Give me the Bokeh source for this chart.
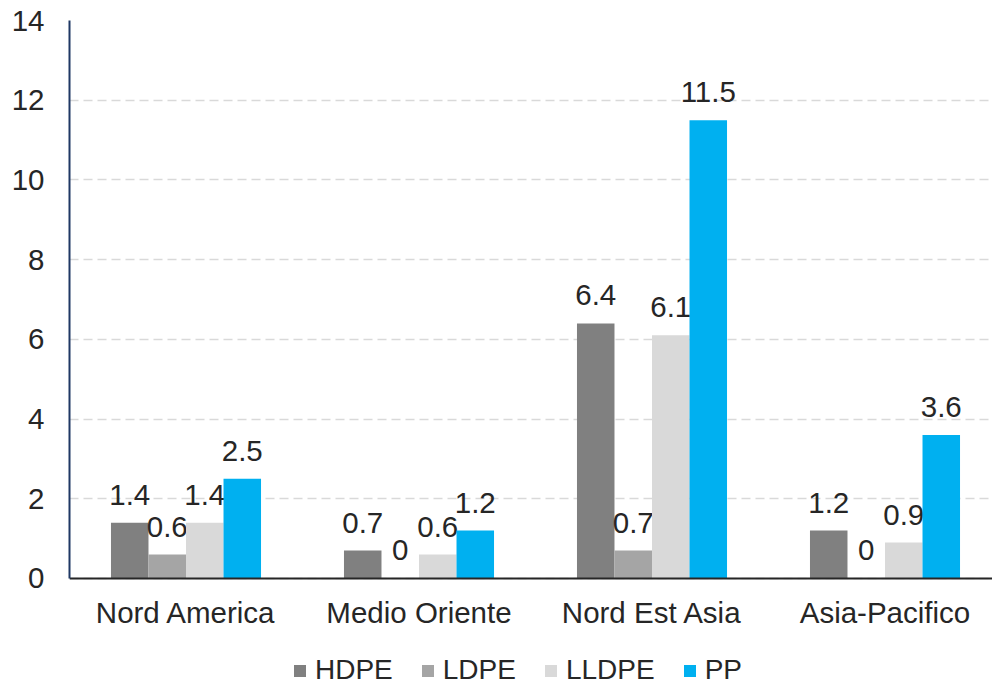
from bokeh.plotting import figure
from bokeh.models import (ColumnDataSource, Range1d, FixedTicker, Legend, LegendItem)
from bokeh.core.properties import value
from bokeh.embed import file_html
from bokeh.resources import INLINE

categories = ["Nord America", "Medio Oriente", "Nord Est Asia", "Asia-Pacifico"]
series_names = ["HDPE", "LDPE", "LLDPE", "PP"]
hdpe = [1.4, 0.7, 6.4, 1.2]
ldpe = [0.6, 0, 0.7, 0]
lldpe = [1.4, 0.6, 6.1, 0.9]
pp = [2.5, 1.2, 11.5, 3.6]
y_ticks = [0, 2, 4, 6, 8, 10, 12, 14]

series_values = [hdpe, ldpe, lldpe, pp]
colors = ["#808080", "#A5A5A5", "#D9D9D9", "#00B0F0"]

FONT = "Liberation Sans"
TXT = "#262626"
FS = "29.5px"

# frame extends below the zero line to hold the legend; x axis drawn at y=0
p = figure(frame_width=923, frame_height=680, output_backend="svg", toolbar_location=None,
           x_range=Range1d(0, 923 / 233), y_range=Range1d(-122 / 39.83, 14),
           min_border_left=69, min_border_right=0, min_border_top=20, min_border_bottom=0)
p.outline_line_color = None
p.background_fill_color = "white"

bar_w = 0.161
items = []
for i, (name, vals, col) in enumerate(zip(series_names, series_values, colors)):
    xs = [k + 0.5 + (i - 1.5) * bar_w for k in range(len(categories))]
    src = ColumnDataSource(dict(x=xs, top=vals, label=[f"{v:g}" for v in vals]))
    r = p.vbar(x="x", top="top", width=bar_w, bottom=0, source=src,
               fill_color=col, line_color=None)
    p.text(x="x", y="top", text="label", source=src, text_align="center",
           text_baseline="alphabetic", y_offset=-28, text_font=value(FONT),
           text_font_size=FS, text_color=TXT)
    items.append(LegendItem(label=name, renderers=[r]))

# axes
p.xaxis.ticker = FixedTicker(ticks=[k + 0.5 for k in range(len(categories))])
p.xaxis.major_label_overrides = {k + 0.5: c for k, c in enumerate(categories)}
p.xaxis.fixed_location = 0
p.yaxis.ticker = FixedTicker(ticks=y_ticks)
p.yaxis.bounds = (0, 14)
for ax in (p.xaxis[0], p.yaxis[0]):
    ax.major_tick_line_color = None
    ax.minor_tick_line_color = None
    ax.major_tick_out = 0
    ax.major_tick_in = 0
    ax.minor_tick_out = 0
    ax.minor_tick_in = 0
    ax.major_label_text_font = FONT
    ax.major_label_text_font_size = FS
    ax.major_label_text_color = TXT
p.xaxis.axis_line_color = "#262626"
p.xaxis.axis_line_width = 2
p.xaxis.major_label_standoff = 18
p.yaxis.axis_line_color = "#1F3864"
p.yaxis.axis_line_width = 2
p.yaxis.major_label_standoff = 25

p.xgrid.grid_line_color = None
p.ygrid.grid_line_color = "#D9D9D9"
p.ygrid.grid_line_dash = "9 5"
p.ygrid.grid_line_width = 1.5

legend = Legend(items=items, orientation="horizontal", location=(223, 14),
                glyph_width=15, glyph_height=15, label_standoff=8, spacing=27,
                padding=0, margin=0, border_line_color=None, background_fill_alpha=0,
                label_text_font=FONT, label_text_font_size="28px", label_text_color=TXT)
p.add_layout(legend)

open("out.html", "w").write(file_html(p, INLINE))
